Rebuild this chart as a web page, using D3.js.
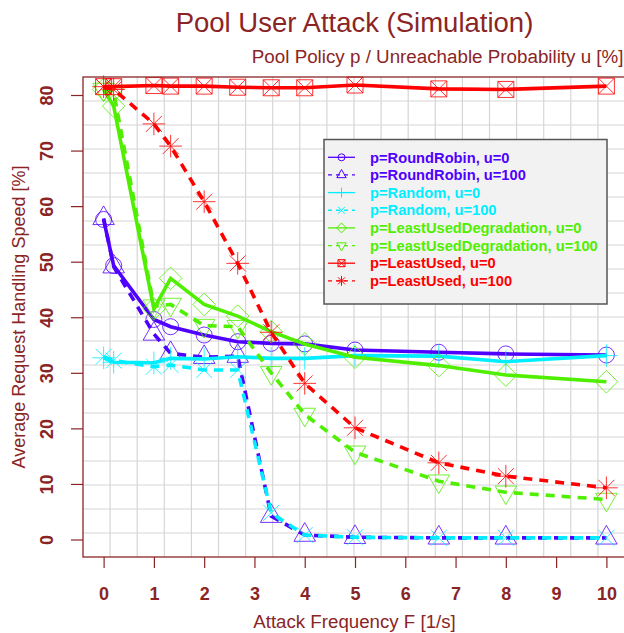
<!DOCTYPE html>
<html>
<head>
<meta charset="utf-8">
<script src="https://cdn.jsdelivr.net/npm/d3@7"></script>
<style>
  body { margin: 0; background: #fff; }
  svg { display: block; font-family: "Liberation Sans", Arial, Helvetica, sans-serif; }
</style>
</head>
<body>
<svg></svg>
<script>
// attack frequency F [1/s]
const frequencies = [0, 0.2, 1, 1.333, 2, 2.667, 3.333, 4, 5, 6.667, 8, 10];

// average request handling speed [%]
const roundRobinU0    = [57.6, 49.3, 39.6, 38.3, 36.8, 35.6, 35.3, 35.2, 34.1, 33.7, 33.4, 33.2];
const roundRobinU100  = [57.8, 49.1, 37.0, 33.5, 32.8, 33.0, 4.2, 0.8, 0.4, 0.3, 0.3, 0.3];
const randomU0        = [32.7, 31.9, 31.8, 32.6, 32.5, 32.9, 32.6, 32.6, 33.1, 33.0, 32.0, 33.1];
const randomU100      = [32.9, 32.2, 31.1, 31.4, 30.5, 30.5, 4.8, 0.8, 0.4, 0.3, 0.3, 0.3];
const leastUsedDegU0  = [81.0, 78.0, 41.5, 47.0, 42.3, 40.2, 37.4, 35.2, 32.8, 31.3, 29.6, 28.4];
const leastUsedDegU100 = [81.0, 80.5, 42.0, 42.3, 38.5, 38.3, 30.0, 22.5, 15.7, 10.5, 8.5, 7.2];
const leastUsedU0     = [81.5, 81.5, 81.7, 81.6, 81.6, 81.4, 81.3, 81.3, 81.8, 81.1, 81.0, 81.6];
const leastUsedU100   = [81.5, 81.0, 74.8, 70.8, 60.8, 49.7, 37.3, 28.1, 20.1, 13.8, 11.4, 9.3];

const seriesLabels = [
  "p=RoundRobin, u=0", "p=RoundRobin, u=100",
  "p=Random, u=0", "p=Random, u=100",
  "p=LeastUsedDegradation, u=0", "p=LeastUsedDegradation, u=100",
  "p=LeastUsed, u=0", "p=LeastUsed, u=100"
];
const xTicks = d3.range(0, 11, 1);
const yTicks = d3.range(0, 81, 10);

const width = 624;
const height = 633;
const plot = { left: 83, right: 625, top: 77, bottom: 557 };
const darkRed = "#8B2525";

const blue = "#5000FF", cyan = "#00EEFF", green = "#50EE00", red = "#FF0000";

const series = [
  { values: roundRobinU0,     color: blue,  shape: "circle",       dashed: false },
  { values: roundRobinU100,   color: blue,  shape: "triangle",     dashed: true },
  { values: randomU0,         color: cyan,  shape: "plus",         dashed: false },
  { values: randomU100,       color: cyan,  shape: "cross",        dashed: true },
  { values: leastUsedDegU0,   color: green, shape: "diamond",      dashed: false },
  { values: leastUsedDegU100, color: green, shape: "triangleDown", dashed: true },
  { values: leastUsedU0,      color: red,   shape: "squareCross",  dashed: false },
  { values: leastUsedU100,    color: red,   shape: "asterisk",     dashed: true }
].map((s, i) => ({ ...s, label: seriesLabels[i] }));

// R style point symbols, r = symbol radius
const markerPath = (shape, r) => {
  const s2 = Math.SQRT2 * r;
  const t = 1.555 * r;
  const tx = t * Math.sqrt(3) / 2;
  const cross = `M${-r},${-r}L${r},${r}M${-r},${r}L${r},${-r}`;
  const plus = `M${-s2},0H${s2}M0,${-s2}V${s2}`;
  switch (shape) {
    case "circle": return `M${-r},0A${r},${r} 0 1,0 ${r},0A${r},${r} 0 1,0 ${-r},0Z`;
    case "triangle": return `M0,${-t}L${tx},${t / 2}L${-tx},${t / 2}Z`;
    case "plus": return plus;
    case "cross": return cross;
    case "diamond": return `M0,${-s2}L${s2},0L0,${s2}L${-s2},0Z`;
    case "triangleDown": return `M0,${t}L${tx},${-t / 2}L${-tx},${-t / 2}Z`;
    case "squareCross": return `M${-r},${-r}H${r}V${r}H${-r}Z` + cross;
    case "asterisk": return plus + cross;
  }
};

const render = () => {
  const svg = d3.select("svg")
    .attr("width", width)
    .attr("height", height);

  svg.append("rect").attr("width", width).attr("height", height).attr("fill", "#fff");

  const x = d3.scaleLinear().domain([-0.41, 10.37]).range([plot.left, plot.right]);
  const y = d3.scaleLinear().domain([-3.15, 83.24]).range([plot.bottom, plot.top]);

  // grid: 20 x 20 cells
  const xd = x.domain(), yd = y.domain();
  const gridX = d3.range(1, 20).map(k => xd[0] + k * (xd[1] - xd[0]) / 20);
  const gridY = d3.range(1, 20).map(k => yd[0] + k * (yd[1] - yd[0]) / 20);

  const grid = svg.append("g").attr("stroke", "#d6d6d6").attr("stroke-width", 1.2);
  grid.selectAll(".gx").data(gridX).join("line")
    .attr("x1", d => x(d)).attr("x2", d => x(d))
    .attr("y1", plot.top).attr("y2", plot.bottom);
  grid.selectAll(".gy").data(gridY).join("line")
    .attr("y1", d => y(d)).attr("y2", d => y(d))
    .attr("x1", plot.left).attr("x2", plot.right);

  // axes
  const xAxis = svg.append("g")
    .attr("transform", `translate(0,${plot.bottom})`)
    .call(d3.axisBottom(x).tickValues(xTicks).tickSize(11).tickPadding(19).tickFormat(d3.format("d")));
  const yAxis = svg.append("g")
    .attr("transform", `translate(${plot.left},0)`)
    .call(d3.axisLeft(y).tickValues(yTicks).tickSize(12).tickFormat(d3.format("d")));

  [xAxis, yAxis].forEach(a => {
    a.select(".domain").remove();
    a.selectAll("line").attr("stroke", darkRed).attr("stroke-width", 1.2);
    a.selectAll("text")
      .attr("fill", darkRed)
      .attr("font-size", 18)
      .attr("font-weight", "bold")
      .attr("font-family", "Liberation Sans, Arial, sans-serif");
  });

  yAxis.selectAll("text")
    .attr("transform", "rotate(-90)")
    .attr("x", 0)
    .attr("y", -30)
    .attr("dy", 0)
    .attr("text-anchor", "middle");

  // series
  const line = d3.line()
    .x((d, i) => x(frequencies[i]))
    .y(d => y(d));

  series.forEach(s => {
    const g = svg.append("g");
    g.append("path")
      .datum(s.values)
      .attr("d", line)
      .attr("fill", "none")
      .attr("stroke", s.color)
      .attr("stroke-width", 3.6)
      .attr("stroke-dasharray", s.dashed ? "9,7" : null);
    g.selectAll("path.pt")
      .data(s.values)
      .join("path")
      .attr("class", "pt")
      .attr("transform", (d, i) => `translate(${x(frequencies[i])},${y(d)})`)
      .attr("d", markerPath(s.shape, 8))
      .attr("fill", "none")
      .attr("stroke", s.color)
      .attr("stroke-width", 1)
      .attr("opacity", 0.8);
  });

  // plot box
  svg.append("rect")
    .attr("x", plot.left).attr("y", plot.top)
    .attr("width", plot.right - plot.left).attr("height", plot.bottom - plot.top)
    .attr("fill", "none")
    .attr("stroke", darkRed)
    .attr("stroke-width", 1.3);

  // legend
  const legend = svg.append("g");
  legend.append("rect")
    .attr("x", 324).attr("y", 139.5)
    .attr("width", 283).attr("height", 164.5)
    .attr("fill", "#f2f2f2")
    .attr("stroke", "#555")
    .attr("stroke-width", 1.5);

  const rows = legend.selectAll("g.row")
    .data(series)
    .join("g")
    .attr("class", "row")
    .attr("transform", (d, i) => `translate(0,${157.3 + i * 17.65})`);

  rows.append("line")
    .attr("x1", 328).attr("x2", 355)
    .attr("stroke", d => d.color)
    .attr("stroke-width", 1.3)
    .attr("stroke-dasharray", d => d.dashed ? "4,4" : null);
  rows.append("path")
    .attr("transform", "translate(341.5,0)")
    .attr("d", d => markerPath(d.shape, 3.5))
    .attr("fill", "none")
    .attr("stroke", d => d.color)
    .attr("stroke-width", 1);
  rows.append("text")
    .attr("x", 370)
    .attr("y", 5.2)
    .attr("font-size", 14.7)
    .attr("font-weight", "bold")
    .attr("fill", d => d.color)
    .text(d => d.label);

  // titles
  svg.append("text")
    .attr("x", 354.5).attr("y", 32)
    .attr("text-anchor", "middle")
    .attr("font-size", 27.5)
    .attr("fill", darkRed)
    .text("Pool User Attack (Simulation)");

  svg.append("text")
    .attr("x", 623.5).attr("y", 63)
    .attr("text-anchor", "end")
    .attr("font-size", 18.8)
    .attr("fill", darkRed)
    .text("Pool Policy p / Unreachable Probability u [%]");

  svg.append("text")
    .attr("x", 354.5).attr("y", 628)
    .attr("text-anchor", "middle")
    .attr("font-size", 18.7)
    .attr("fill", darkRed)
    .text("Attack Frequency F [1/s]");

  svg.append("text")
    .attr("transform", `translate(25,${(plot.top + plot.bottom) / 2}) rotate(-90)`)
    .attr("text-anchor", "middle")
    .attr("font-size", 18)
    .attr("fill", darkRed)
    .text("Average Request Handling Speed [%]");
};

render();
</script>
</body>
</html>
